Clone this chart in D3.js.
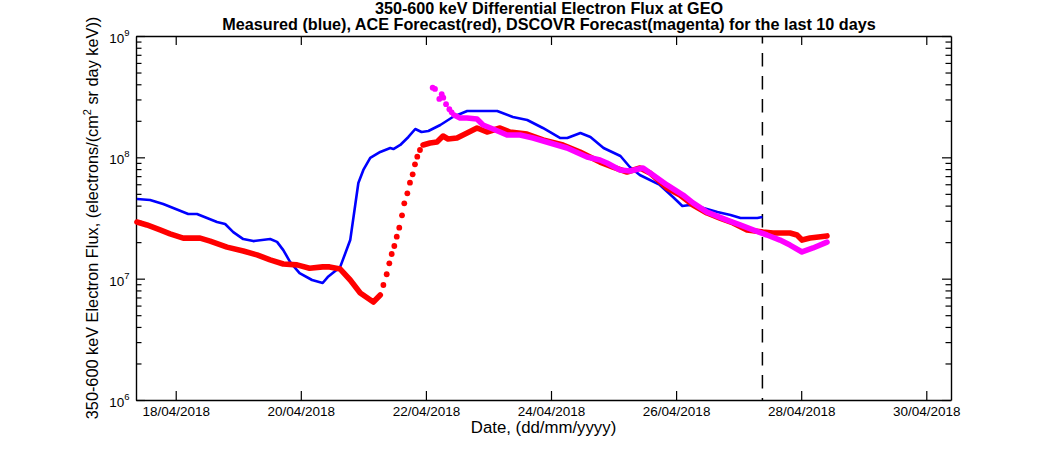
<!DOCTYPE html>
<html><head><meta charset="utf-8">
<script src="https://cdn.jsdelivr.net/npm/d3@7"></script>
<style>
body{margin:0;background:#fff}
text{font-family:"Liberation Sans",Arial,Helvetica,sans-serif;fill:#000}
</style>
</head><body>
<svg id="chart" width="1050" height="450"></svg>
<script>
// ---------- data (day-of-April 2018, flux) ----------
const xTickDays = [18, 20, 22, 24, 26, 28, 30];
const xTickLabels = ["18/04/2018","20/04/2018","22/04/2018","24/04/2018","26/04/2018","28/04/2018","30/04/2018"];
const yTickExponents = [6, 7, 8, 9];
const xDomainDays = [17.365, 30.395];
const yDomain = [1e6, 1e9];
const nowDay = 27.38;

const measured = [
 [17.38,4.54e7],[17.59,4.45e7],[17.80,4.12e7],[17.96,3.82e7],[18.20,3.41e7],[18.34,3.41e7],
 [18.50,3.16e7],[18.66,2.93e7],[18.79,2.82e7],[18.92,2.42e7],[19.08,2.12e7],[19.24,2.04e7],
 [19.51,2.12e7],[19.62,2.01e7],[19.72,1.72e7],[19.83,1.37e7],[19.98,1.11e7],[20.18,9.75e6],
 [20.35,9.21e6],[20.43,1.03e7],[20.63,1.25e7],[20.79,2.08e7],[20.87,4.05e7],[20.92,6.14e7],
 [21.00,7.87e7],[21.11,9.88e7],[21.27,1.107e8],[21.43,1.194e8],[21.48,1.171e8],[21.59,1.264e8],
 [21.72,1.472e8],[21.83,1.712e8],[21.93,1.618e8],[22.04,1.649e8],[22.23,1.848e8],[22.43,2.15e8],
 [22.66,2.41e8],[23.14,2.41e8],[23.39,2.15e8],[23.62,2.03e8],[23.87,1.745e8],[24.15,1.443e8],
 [24.26,1.443e8],[24.47,1.587e8],[24.63,1.472e8],[24.84,1.194e8],[25.11,1.026e8],[25.26,8.32e7],
 [25.42,7.15e7],[25.74,5.92e7],[25.95,4.71e7],[26.10,3.97e7],[26.22,4.05e7],[26.38,3.90e7],
 [26.66,3.54e7],[26.87,3.35e7],[27.03,3.16e7],[27.30,3.16e7],[27.38,3.22e7]
];

const aceLineA = [
 [17.38,2.93e7],[17.54,2.77e7],[17.75,2.52e7],[17.91,2.34e7],[18.12,2.16e7],[18.39,2.16e7],
 [18.55,2.04e7],[18.82,1.82e7],[19.08,1.69e7],[19.30,1.57e7],[19.51,1.43e7],[19.72,1.32e7],
 [19.94,1.30e7],[20.14,1.22e7],[20.35,1.25e7],[20.46,1.25e7],[20.63,1.20e7],[20.79,9.75e6],
 [20.95,7.62e6],[21.16,6.42e6],[21.27,7.34e6]
];
const aceDots = [
 [21.320,8.87e6],[21.373,1.087e7],[21.415,1.338e7],[21.453,1.597e7],[21.495,1.859e7],
 [21.534,2.218e7],[21.574,2.63e7],[21.618,3.33e7],[21.654,4.18e7],[21.703,5.05e7],
 [21.745,6.18e7],[21.788,7.25e7],[21.825,8.76e7],[21.862,1.012e8],[21.905,1.149e8]
];
const aceLineB = [
 [21.954,1.264e8],[22.066,1.313e8],[22.177,1.338e8],[22.274,1.499e8],[22.354,1.416e8],
 [22.497,1.443e8],[22.658,1.587e8],[22.817,1.745e8],[22.976,1.618e8],[23.185,1.745e8],
 [23.344,1.618e8],[23.616,1.557e8],[23.872,1.390e8],[24.192,1.264e8],[24.464,1.107e8],
 [24.783,9.15e7],[24.991,8.32e7],[25.215,7.57e7],[25.423,8.17e7],[25.582,7.43e7],
 [25.854,5.59e7],[26.062,4.89e7],[26.270,4.05e7],[26.494,3.48e7],[26.701,3.16e7],
 [26.910,2.88e7],[27.134,2.52e7],[27.390,2.42e7],[27.549,2.38e7],[27.821,2.38e7],
 [27.933,2.29e7],[28.013,2.08e7],[28.141,2.16e7],[28.412,2.25e7]
];

const dscovrDots = [
 [22.108,3.75e8],[22.145,3.66e8],[22.214,3.03e8],[22.253,3.31e8],[22.278,3.10e8],
 [22.322,2.74e8],[22.375,2.49e8],[22.412,2.35e8]
];
const dscovrLine = [
 [22.449,2.23e8],[22.545,2.11e8],[22.658,2.11e8],[22.817,2.07e8],[22.913,1.848e8],
 [23.073,1.712e8],[23.296,1.528e8],[23.504,1.528e8],[23.713,1.443e8],[23.984,1.313e8],
 [24.256,1.194e8],[24.576,1.006e8],[24.783,9.51e7],[24.895,8.98e7],[25.103,7.87e7],
 [25.263,7.72e7],[25.471,8.17e7],[25.631,7.15e7],[25.854,5.92e7],[26.110,4.89e7],
 [26.270,4.21e7],[26.494,3.54e7],[26.814,3.04e7],[27.022,2.77e7],[27.230,2.52e7],
 [27.453,2.29e7],[27.661,2.08e7],[27.821,1.89e7],[28.013,1.66e7],[28.189,1.79e7],
 [28.412,2.00e7]
];

// ---------- chart ----------
const toDate = d => new Date(Date.UTC(2018, 3, 1) + (d - 1) * 864e5);
const M = {l:136, r:951, t:36, b:400};
const svg = d3.select("#chart");
svg.append("rect").attr("width",1050).attr("height",450).attr("fill","#fff");

const x = d3.scaleUtc().domain(xDomainDays.map(toDate)).range([M.l, M.r]);
const y = d3.scaleLog().domain(yDomain).range([M.b, M.t]);

const majors = yTickExponents.map(e => Math.pow(10, e));
const minors = [];
yTickExponents.slice(0, -1).forEach(e => { for (let m = 2; m <= 9; m++) minors.push(m * Math.pow(10, e)); });
const xTicks = xTickDays.map(toDate);

function styleAxis(g){
  g.selectAll("path.domain").attr("stroke","#000").attr("stroke-width",1.4);
  g.selectAll(".tick line").attr("stroke","#000").attr("stroke-width",1.2);
}

// bottom axis
const gx = svg.append("g").attr("transform",`translate(0,${M.b})`)
  .call(d3.axisBottom(x).tickValues(xTicks).tickSize(-9).tickSizeOuter(0).tickPadding(6.5)
    .tickFormat((d,i) => xTickLabels[i]));
gx.selectAll("text").attr("font-size","13.5px").attr("font-family","Liberation Sans, Arial, sans-serif");
styleAxis(gx);
// top axis
const gxt = svg.append("g").attr("transform",`translate(0,${M.t})`)
  .call(d3.axisTop(x).tickValues(xTicks).tickSize(-9).tickSizeOuter(0).tickFormat(""));
styleAxis(gxt);
// left axis
const gy = svg.append("g").attr("transform",`translate(${M.l},0)`)
  .call(d3.axisLeft(y).tickValues(majors).tickSize(-9).tickSizeOuter(0).tickFormat(""));
styleAxis(gy);
const gym = svg.append("g").attr("transform",`translate(${M.l},0)`)
  .call(d3.axisLeft(y).tickValues(minors).tickSize(-5.5).tickSizeOuter(0).tickFormat(""));
gym.select("path.domain").remove(); styleAxis(gym);
// right axis
const gr = svg.append("g").attr("transform",`translate(${M.r},0)`)
  .call(d3.axisRight(y).tickValues(majors).tickSize(-9).tickSizeOuter(0).tickFormat(""));
styleAxis(gr);
const grm = svg.append("g").attr("transform",`translate(${M.r},0)`)
  .call(d3.axisRight(y).tickValues(minors).tickSize(-5.5).tickSizeOuter(0).tickFormat(""));
grm.select("path.domain").remove(); styleAxis(grm);

// y tick labels 10^n
yTickExponents.forEach(e => {
  const t = svg.append("text").attr("x", 129.5).attr("y", y(Math.pow(10,e)) + 7)
    .attr("text-anchor","end").attr("font-size","13.5px");
  t.append("tspan").text("10");
  t.append("tspan").attr("dy",-7).attr("font-size","9.5px").text(String(e));
});

// dashed "now" line
svg.append("line")
  .attr("x1", x(toDate(nowDay))).attr("x2", x(toDate(nowDay)))
  .attr("y1", y(yDomain[1])).attr("y2", y(yDomain[0]))
  .attr("stroke","#000").attr("stroke-width",1.5)
  .attr("stroke-dasharray","13.5,9.5").attr("stroke-dashoffset",6);

const line = d3.line().x(d => x(toDate(d[0]))).y(d => y(d[1]));

// measured (blue)
svg.append("path").datum(measured).attr("d", line)
  .attr("fill","none").attr("stroke","#0000ff").attr("stroke-width",2.6).attr("stroke-linejoin","round");

// ACE (red)
[aceLineA, aceLineB].forEach(seg => svg.append("path").datum(seg).attr("d", line)
  .attr("fill","none").attr("stroke","#ff0000").attr("stroke-width",5.6)
  .attr("stroke-linejoin","round").attr("stroke-linecap","round"));
svg.selectAll("circle.ace").data(aceDots).enter().append("circle").attr("class","ace")
  .attr("cx", d => x(toDate(d[0]))).attr("cy", d => y(d[1])).attr("r", 2.9).attr("fill","#ff0000");

// DSCOVR (magenta)
svg.append("path").datum(dscovrLine).attr("d", line)
  .attr("fill","none").attr("stroke","#ff00ff").attr("stroke-width",5.6)
  .attr("stroke-linejoin","round").attr("stroke-linecap","round");
svg.selectAll("circle.dsc").data(dscovrDots).enter().append("circle").attr("class","dsc")
  .attr("cx", d => x(toDate(d[0]))).attr("cy", d => y(d[1])).attr("r", 2.9).attr("fill","#ff00ff");

// titles
svg.append("text").attr("x",549).attr("y",14).attr("text-anchor","middle")
  .attr("font-size","16.2px").attr("font-weight","bold")
  .text("350-600 keV Differential Electron Flux at GEO");
svg.append("text").attr("x",549).attr("y",30).attr("text-anchor","middle")
  .attr("font-size","16.2px").attr("font-weight","bold")
  .text("Measured (blue), ACE Forecast(red), DSCOVR Forecast(magenta) for the last 10 days");

// axis labels
svg.append("text").attr("x",(M.l+M.r)/2).attr("y",432.5).attr("text-anchor","middle")
  .attr("font-size","16.8px").text("Date, (dd/mm/yyyy)");
const yl = svg.append("text").attr("transform",`translate(98,${(M.t+M.b)/2}) rotate(-90)`)
  .attr("text-anchor","middle").attr("font-size","16.3px");
yl.append("tspan").text("350-600 keV Electron Flux, (electrons/(cm");
yl.append("tspan").attr("dy",-7).attr("font-size","11px").text("2");
yl.append("tspan").attr("dy",7).text(" sr day keV))");
</script>
</body></html>
